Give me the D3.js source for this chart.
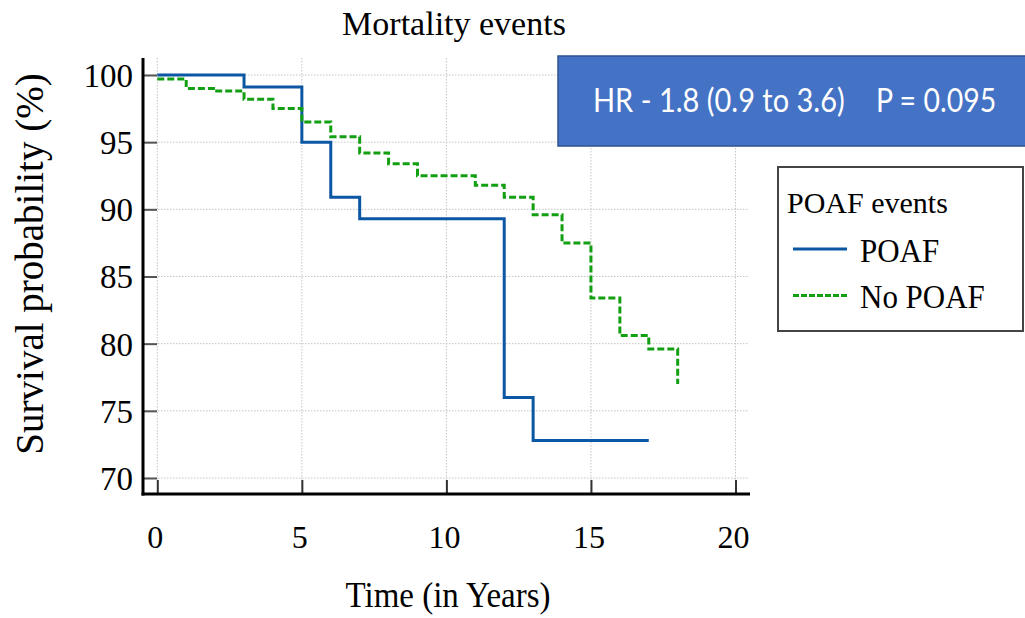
<!DOCTYPE html>
<html><head><meta charset="utf-8">
<script src="https://cdn.jsdelivr.net/npm/d3@7"></script>
<style>body{margin:0;background:#fff}</style>
</head><body>
<svg id="c" width="1025" height="618"></svg>
<script>
// Data
const poafTimes = [0, 3, 5, 6, 7, 12, 13];
const poafSurv  = [100, 99.1, 95.0, 90.9, 89.3, 76.0, 72.8];
const poafEnd = 17;
const noPoafTimes = [0, 1, 2, 3, 4, 5, 6, 7, 8, 9, 11, 12, 13, 14, 15, 16, 17, 18];
const noPoafSurv  = [99.7, 99.0, 98.8, 98.2, 97.5, 96.5, 95.4, 94.2, 93.4, 92.5, 91.8, 90.9, 89.6, 87.5, 83.4, 80.6, 79.6, 77.0];
const xTicks = [0, 5, 10, 15, 20];
const yTicks = [70, 75, 80, 85, 90, 95, 100];
const seriesNames = ["POAF", "No POAF"];
const legendTitle = "POAF events";
const titleText = "Mortality events";
const xLabel = "Time (in Years)";
const yLabel = "Survival probability (%)";
const hrText = "HR - 1.8 (0.9 to 3.6)";
const pText = "P = 0.095";

const svg = d3.select("#c");
const x = d3.scaleLinear().domain([0, 20]).range([157.3, 735.5]);
const y = d3.scaleLinear().domain([70, 100]).range([478, 75]);
const serif = "'Liberation Serif','Times New Roman',serif";

// grid
const grid = svg.append("g").attr("stroke", "#c4c4c4").attr("stroke-width", 1).attr("stroke-dasharray", "1.5,1.5");
grid.selectAll(".gx").data(xTicks).join("line")
  .attr("x1", d => x(d)).attr("x2", d => x(d)).attr("y1", 58).attr("y2", 493);
grid.selectAll(".gy").data(yTicks).join("line")
  .attr("x1", 143).attr("x2", 748).attr("y1", d => y(d)).attr("y2", d => y(d));

// step paths
const line = d3.line().x(d => x(d[0])).y(d => y(d[1])).curve(d3.curveStepAfter);
const pPts = poafTimes.map((t, i) => [t, poafSurv[i]]);
pPts.push([poafEnd, poafSurv[poafSurv.length - 1]]);
svg.append("path").datum(pPts)
  .attr("d", line).attr("fill", "none").attr("stroke", "#0b57a4").attr("stroke-width", 3);
const npPts = noPoafTimes.map((t, i) => [t, noPoafSurv[i]]);
svg.append("path").datum(npPts)
  .attr("d", line).attr("fill", "none").attr("stroke", "#12a012").attr("stroke-width", 3)
  .attr("stroke-dasharray", "7,3");

// axes
const yAxis = d3.axisRight(y).tickValues(yTicks).tickSize(14).tickFormat("");
const ga = svg.append("g").attr("transform", "translate(143,0)").call(yAxis);
ga.select(".domain").remove();
ga.selectAll(".tick line").attr("stroke", "#555").attr("stroke-width", 2);
const xAxis = d3.axisTop(x).tickValues(xTicks).tickSize(14).tickFormat("");
const gb = svg.append("g").attr("transform", "translate(0,494)").call(xAxis);
gb.select(".domain").remove();
gb.selectAll(".tick line").attr("stroke", "#333").attr("stroke-width", 2);
svg.append("line").attr("x1", 143).attr("x2", 143).attr("y1", 58).attr("y2", 495.5).attr("stroke", "#000").attr("stroke-width", 3);
svg.append("line").attr("x1", 141.5).attr("x2", 750).attr("y1", 494).attr("y2", 494).attr("stroke", "#000").attr("stroke-width", 3);

// tick labels
svg.selectAll(".yl").data(yTicks).join("text")
  .attr("x", 133).attr("y", d => y(d)).attr("dy", "0.36em").attr("text-anchor", "end")
  .attr("font-family", serif).attr("font-size", 33).text(d => d);
svg.selectAll(".xl").data(xTicks).join("text")
  .attr("x", d => x(d) - 2).attr("y", 548).attr("text-anchor", "middle")
  .attr("font-family", serif).attr("font-size", 32).text(d => d);

// titles
svg.append("text").attr("x", 454).attr("y", 35).attr("text-anchor", "middle")
  .attr("font-family", serif).attr("font-size", 34).text(titleText);
svg.append("text").attr("transform", "translate(448,607) scale(1,1.1)").attr("text-anchor", "middle")
  .attr("font-family", serif).attr("font-size", 33).text(xLabel);
svg.append("text").attr("transform", "translate(43,264) rotate(-90)").attr("text-anchor", "middle")
  .attr("font-family", serif).attr("font-size", 39).text(yLabel);

// HR box
svg.append("rect").attr("x", 558).attr("y", 56).attr("width", 480).attr("height", 90)
  .attr("fill", "#4472c4").attr("stroke", "#2f528f").attr("stroke-width", 1.5);
svg.append("text").attr("transform", "translate(593,112) scale(1,1.12)").attr("fill", "#fff")
  .attr("font-family", "Lato, 'Open Sans', sans-serif").attr("font-size", 29).text(hrText);
svg.append("text").attr("transform", "translate(876,112) scale(1,1.12)").attr("fill", "#fff")
  .attr("font-family", "Lato, 'Open Sans', sans-serif").attr("font-size", 28.5).text(pText);

// legend
svg.append("rect").attr("x", 778).attr("y", 167).attr("width", 245).attr("height", 164)
  .attr("fill", "#fff").attr("stroke", "#444").attr("stroke-width", 2);
svg.append("text").attr("x", 787).attr("y", 213).attr("font-family", serif).attr("font-size", 30).text(legendTitle);
const leg = [{name: seriesNames[0], c: "#0b57a4", dash: null, y: 249},
             {name: seriesNames[1], c: "#12a012", dash: "6,2", y: 295.5}];
leg.forEach(l => {
  svg.append("line").attr("x1", 793).attr("x2", 847).attr("y1", l.y).attr("y2", l.y)
    .attr("stroke", l.c).attr("stroke-width", 3).attr("stroke-dasharray", l.dash);
  svg.append("text").attr("transform", `translate(860,${l.y + 12.5}) scale(1,1.07)`)
    .attr("font-family", serif).attr("font-size", 31).text(l.name);
});
</script>
</body></html>
